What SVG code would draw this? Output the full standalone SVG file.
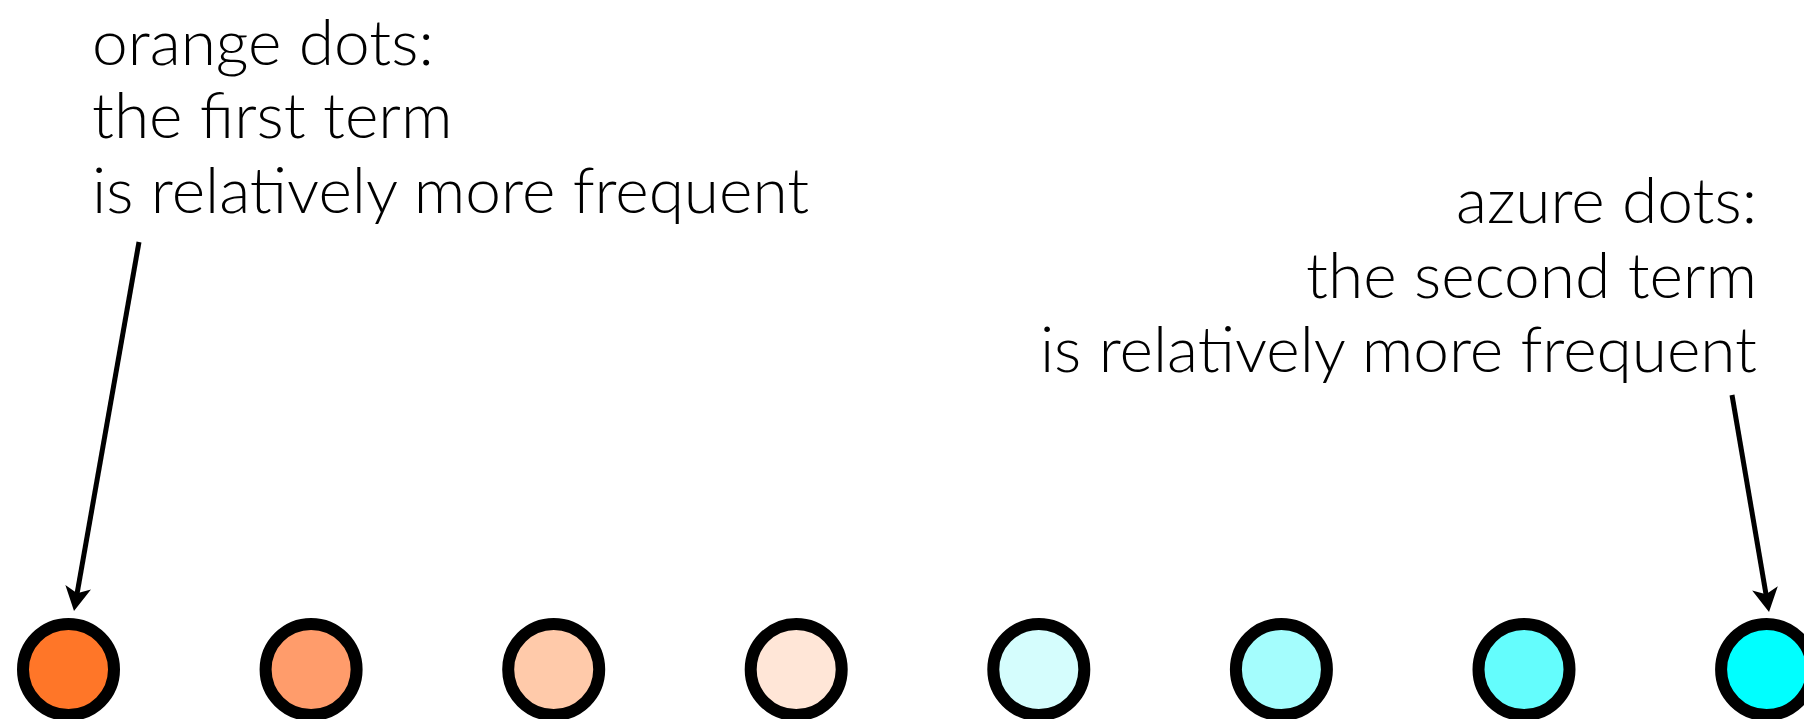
<svg xmlns="http://www.w3.org/2000/svg" width="1804" height="719" viewBox="0 0 1804 719">
<style>
.lbl{font-family:Lato,"Liberation Sans",sans-serif;font-weight:300;font-size:64px;fill:#000}
.dot{stroke:#000;stroke-width:12}
.conn{stroke:#000;stroke-width:5;fill:none}
</style>
<defs>
<marker id="ah" markerUnits="userSpaceOnUse" markerWidth="26" markerHeight="28" viewBox="0 0 26 28" refX="9" refY="14" orient="auto">
<path d="M0,1 L24,14 L0,27 L6,14 z" fill="#000"/>
</marker>
</defs>
<rect width="1804" height="719" fill="#fff"/>
<g id="label-orange">
<text class="lbl" x="92" y="65">orange dots:</text>
<text class="lbl" x="92" y="138">the first term</text>
<text class="lbl" x="92" y="213">is relatively more frequent</text>
</g>
<g id="label-azure">
<text class="lbl" x="1757" y="223" text-anchor="end">azure dots:</text>
<text class="lbl" x="1757" y="298" text-anchor="end">the second term</text>
<text class="lbl" x="1757" y="372" text-anchor="end">is relatively more frequent</text>
</g>
<g id="connectors">
<line class="conn" x1="139" y1="242" x2="76.6" y2="596.2" marker-end="url(#ah)"/>
<line class="conn" x1="1732" y1="395" x2="1766.5" y2="597.2" marker-end="url(#ah)"/>
</g>
<g id="dot1"><circle class="dot" cx="68.5" cy="669.5" r="45.5" fill="#FF7628"/></g>
<g id="dot2"><circle class="dot" cx="311.1" cy="669.5" r="45.5" fill="#FF9C6B"/></g>
<g id="dot3"><circle class="dot" cx="553.7" cy="669.5" r="45.5" fill="#FFCAAA"/></g>
<g id="dot4"><circle class="dot" cx="796.2" cy="669.5" r="45.5" fill="#FFE6D7"/></g>
<g id="dot5"><circle class="dot" cx="1038.8" cy="669.5" r="45.5" fill="#D5FDFD"/></g>
<g id="dot6"><circle class="dot" cx="1281.4" cy="669.5" r="45.5" fill="#A4FDFD"/></g>
<g id="dot7"><circle class="dot" cx="1524" cy="669.5" r="45.5" fill="#64FDFD"/></g>
<g id="dot8"><circle class="dot" cx="1766.6" cy="669.5" r="45.5" fill="#00FFFF"/></g>
</svg>
